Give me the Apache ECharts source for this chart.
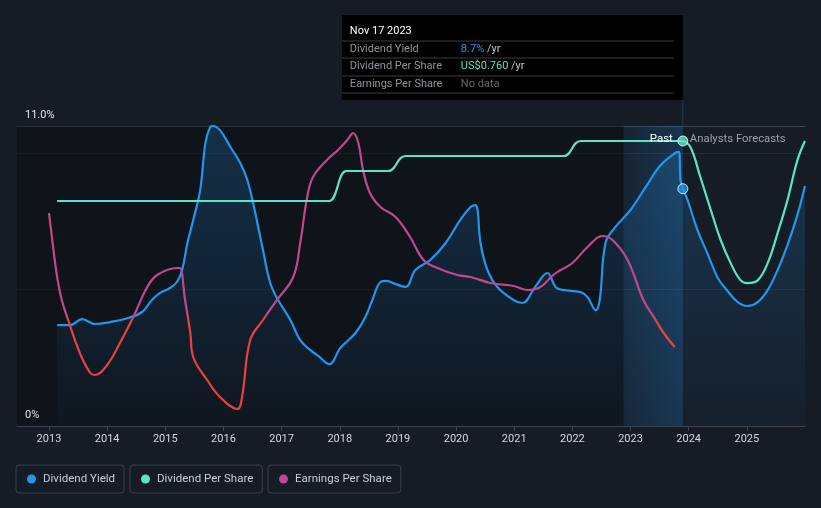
<!DOCTYPE html>
<html><head><meta charset="utf-8">
<script src="https://cdn.jsdelivr.net/npm/echarts@6/dist/echarts.min.js"></script>
<style>html,body{margin:0;padding:0;background:#161c26;}#c{width:821px;height:508px;}</style>
</head><body><div id="c"></div>
<script>
// ---- data (x = fractional year) ----
const yearTicks = [2013,2014,2015,2016,2017,2018,2019,2020,2021,2022,2023,2024,2025];
const dividendYield = [
 [2013.14,3.70],[2013.36,3.70],[2013.57,3.92],[2013.79,3.74],[2014.05,3.81],[2014.36,3.96],[2014.60,4.18],
 [2014.77,4.62],[2014.91,4.88],[2015.08,5.06],[2015.20,5.28],[2015.29,5.72],[2015.38,6.71],[2015.48,7.55],
 [2015.60,8.65],[2015.69,10.38],[2015.77,10.96],[2015.82,11.0],[2015.94,10.85],[2016.12,10.23],[2016.29,9.64],
 [2016.41,9.02],[2016.51,8.18],[2016.68,6.45],[2016.80,5.28],[2016.92,4.69],[2017.15,3.89],[2017.32,3.15],
 [2017.49,2.79],[2017.63,2.57],[2017.82,2.27],[2018.01,2.86],[2018.27,3.41],[2018.44,4.00],[2018.56,4.62],
 [2018.70,5.28],[2018.80,5.32],[2018.92,5.24],[2019.13,5.10],[2019.30,5.72],[2019.56,6.09],[2019.82,6.71],
 [2020.07,7.55],[2020.25,8.03],[2020.33,8.10],[2020.37,7.92],[2020.42,6.71],[2020.54,5.72],[2020.71,5.10],
 [2020.99,4.62],[2021.14,4.51],[2021.36,5.10],[2021.57,5.61],[2021.71,5.10],[2021.83,4.99],[2022.14,4.91],
 [2022.26,4.73],[2022.40,4.25],[2022.47,4.62],[2022.57,6.71],[2022.74,7.30],[2023.00,7.92],[2023.26,8.76],
 [2023.52,9.57],[2023.77,10.01],[2023.83,10.05],[2023.86,9.0],[2023.90,8.70],
 [2023.98,8.29],[2024.15,7.19],[2024.32,6.34],[2024.50,5.43],[2024.67,4.95],[2024.84,4.55],[2025.01,4.40],
 [2025.19,4.55],[2025.36,4.99],[2025.53,5.72],[2025.70,6.64],[2025.87,7.74],[2026.0,8.80]
];
const dpsHistory = [
 [2013.14,0.60],[2017.82,0.60],[2018.11,0.68],[2018.83,0.68],[2019.13,0.72],[2021.85,0.72],[2022.14,0.76],[2023.90,0.76]
];
const dpsForecast = [
 [2023.90,0.76],[2024.03,0.744],[2024.20,0.664],[2024.38,0.576],[2024.55,0.496],[2024.72,0.435],[2024.89,0.389],
 [2025.01,0.381],[2025.19,0.389],[2025.36,0.435],[2025.53,0.515],[2025.70,0.603],[2025.87,0.709],[2026.0,0.76]
];
const eps = [
 [2013.00,1.04],[2013.05,0.80],[2013.14,0.40],[2013.22,0.17],[2013.33,-0.03],[2013.53,-0.36],[2013.71,-0.56],
 [2013.79,-0.58],[2014.00,-0.48],[2014.22,-0.26],[2014.45,0.00],[2014.69,0.30],[2014.86,0.42],[2015.20,0.49],
 [2015.25,0.49],[2015.34,0.17],[2015.43,-0.16],[2015.48,-0.40],[2015.72,-0.63],[2015.94,-0.80],[2016.24,-0.92],
 [2016.32,-0.80],[2016.46,-0.23],[2016.68,-0.03],[2016.92,0.17],[2017.20,0.40],[2017.32,0.74],[2017.44,1.20],
 [2017.54,1.40],[2017.78,1.57],[2017.97,1.67],[2018.13,1.77],[2018.23,1.84],[2018.32,1.74],[2018.40,1.47],
 [2018.52,1.24],[2018.70,1.10],[2018.96,1.00],[2019.21,0.80],[2019.44,0.57],[2019.68,0.49],[2020.02,0.42],
 [2020.25,0.40],[2020.59,0.34],[2020.99,0.31],[2021.23,0.27],[2021.45,0.30],[2021.67,0.42],[2021.80,0.47],
 [2022.00,0.54],[2022.26,0.70],[2022.52,0.81],[2022.69,0.77],[2022.95,0.57],[2023.22,0.17],[2023.40,0.00],
 [2023.57,-0.16],[2023.76,-0.30]
];
const nowYear = 2023.90;
const lastYearStart = 2022.88;
const nowYield = 8.7;
const nowDps = 0.76;
const tooltipDate = 'Nov 17 2023';
const tooltipRows = [
 ['Dividend Yield','8.7%','yield'],
 ['Dividend Per Share','US$0.760','dps'],
 ['Earnings Per Share','No data','none']
];

const BLUE = '#2196ec', TEAL = '#5be3c7', PINK = '#c2478c', RED = '#e8413f';
const chart = echarts.init(document.getElementById('c'));
const legendCommon = {
  orient:'horizontal', icon:'circle', itemWidth:9, itemHeight:9, itemGap:0, top:465,
  padding:[8,9,8,11], borderColor:'#3a3f48', borderWidth:1, borderRadius:3,
  textStyle:{color:'#c9cdd3', fontSize:11.5, fontFamily:'Roboto', padding:[0,0,0,2]}, selectedMode:false
};
chart.setOption({
  backgroundColor:'#161c26',
  animation:false,
  textStyle:{fontFamily:'Roboto, sans-serif'},
  grid:{left:17, right:16, top:126, bottom:82},
  xAxis:{type:'value', min:2012.45, max:2026.0,
    axisLine:{show:true, lineStyle:{color:'#3d424b'}},
    axisTick:{show:true, length:5, lineStyle:{color:'#3d424b'}, customValues:yearTicks},
    axisLabel:{customValues:yearTicks, color:'#d5d7da', fontSize:11, margin:8, formatter:v=>String(v)},
    splitLine:{show:false}},
  yAxis:[
    {type:'value', min:0, max:11, interval:5,
      axisLine:{show:false}, axisTick:{show:false},
      axisLabel:{formatter:v=> v===0?'0%':(v===11?'11.0%':''), align:'left', margin:-8, verticalAlign:'bottom',
        padding:[0,0,5,0], color:'#e2e4e7', fontSize:11},
      splitLine:{show:true, lineStyle:{color:['#2a2f37','#252a32','#252a32','#41454d'], width:1}}},
    {type:'value', min:0, max:0.8, show:false},
    {type:'value', min:-1.09, max:1.91, show:false}
  ],
  legend:[
    Object.assign({data:['Dividend Yield'], left:16}, legendCommon),
    Object.assign({data:['Dividend Per Share'], left:130}, legendCommon),
    Object.assign({data:['Earnings Per Share'], left:268}, legendCommon)
  ],
  series:[
    {type:'line', data:[], z:0, silent:true,
     markArea:{silent:true, z:0, data:[
       [{xAxis:2012.45, itemStyle:{color:'rgba(0,0,0,0.3)'}},{xAxis:lastYearStart}],
       [{xAxis:lastYearStart, itemStyle:{color:new echarts.graphic.LinearGradient(0,0,1,0,[{offset:0,color:'rgba(33,150,243,0.07)'},{offset:1,color:'rgba(33,150,243,0.2)'}])}},{xAxis:nowYear}]
     ]}},
    {name:'Dividend Yield', type:'line', data:dividendYield, smooth:0.4, symbol:'none', z:3,
     lineStyle:{color:BLUE, width:2.2}, itemStyle:{color:BLUE},
     areaStyle:{color:new echarts.graphic.LinearGradient(0,0,0,1,[{offset:0,color:'rgba(35,148,232,0.32)'},{offset:1,color:'rgba(35,148,232,0.04)'}])}},
    {name:'Dividend Per Share', type:'line', yAxisIndex:1, data:dpsHistory, smooth:0.5, smoothMonotone:'x', symbol:'none', z:5,
     lineStyle:{color:TEAL, width:2.2}, itemStyle:{color:TEAL}},
    {name:'Dividend Per Share', type:'line', yAxisIndex:1, data:dpsForecast, smooth:0.4, symbol:'none', z:5,
     lineStyle:{color:TEAL, width:2.2}, itemStyle:{color:TEAL}},
    {name:'Earnings Per Share', type:'line', yAxisIndex:2, data:eps, smooth:0.4, symbol:'none', z:4,
     lineStyle:{width:2.2, color:PINK}, itemStyle:{color:PINK}},
    {type:'scatter', yAxisIndex:1, data:[[nowYear,nowDps]], symbolSize:10, z:10,
     itemStyle:{color:TEAL, borderColor:'#ffffff', borderWidth:1}},
    {type:'scatter', yAxisIndex:0, data:[[nowYear,nowYield]], symbolSize:10, z:10,
     itemStyle:{color:BLUE, borderColor:'#ffffff', borderWidth:1}}
  ]
});

// ---- positions through the chart's own scales ----
const px = chart.convertToPixel({xAxisIndex:0}, nowYear);
const pyTop = chart.convertToPixel({yAxisIndex:0}, 11);
const pyBot = chart.convertToPixel({yAxisIndex:0}, 0);
const pyDps = chart.convertToPixel({yAxisIndex:1}, nowDps);
const pyZero = chart.convertToPixel({yAxisIndex:2}, 0);
const zOff = (pyZero - pyTop) / (pyBot - pyTop);
chart.setOption({series:[{},{},{},{},{
  lineStyle:{color:new echarts.graphic.LinearGradient(0, pyTop, 0, pyBot, [
    {offset:0, color:PINK},{offset:Math.max(0,zOff-0.015), color:PINK},
    {offset:Math.min(1,zOff+0.015), color:RED},{offset:1, color:RED}], true)}
}]});

const boxW = 341, boxL = px - boxW, boxT = 15, boxH = 85;
const g = [];
g.push({type:'line', shape:{x1:px, y1:boxT+boxH, x2:px, y2:pyTop}, style:{stroke:'#1f3b57', lineWidth:1}, z:50});
g.push({type:'rect', shape:{x:boxL, y:boxT, width:boxW, height:boxH}, style:{fill:'#000000'}, z:60});
g.push({type:'text', x:boxL+8, y:31, style:{text:tooltipDate, fill:'#ffffff', font:'11px Roboto', verticalAlign:'middle'}, z:61});
[41,58,76,93].forEach(y=>g.push({type:'line', shape:{x1:boxL, y1:y, x2:px-9, y2:y}, style:{stroke:'#3d3d3d', lineWidth:1}, z:61}));
const rowY = [49,66.5,84];
const valColor = {yield:BLUE, dps:TEAL, none:'#6a6a6a'};
tooltipRows.forEach((r,i)=>{
  g.push({type:'text', x:boxL+8, y:rowY[i], style:{text:r[0], fill:'#8e939a', font:'11px Roboto', verticalAlign:'middle'}, z:61});
  const txt = r[2]==='none' ? '{v|'+r[1]+'}' : '{v|'+r[1]+'}{u| /yr}';
  g.push({type:'text', x:boxL+119, y:rowY[i], style:{text:txt, verticalAlign:'middle', font:'11px Roboto',
    rich:{v:{fill:valColor[r[2]], font:'11px Roboto'}, u:{fill:'#c3c6ca', font:'11px Roboto'}}}, z:61});
});
g.push({type:'text', x:px-10, y:pyDps-2, style:{text:'Past', fill:'#ffffff', font:'11.5px Roboto', align:'right', verticalAlign:'middle'}, z:40});
g.push({type:'text', x:px+7, y:pyDps-2, style:{text:'Analysts Forecasts', fill:'#9aa0a8', font:'11.3px Roboto', align:'left', verticalAlign:'middle'}, z:40});
chart.setOption({graphic:g});
</script></body></html>
